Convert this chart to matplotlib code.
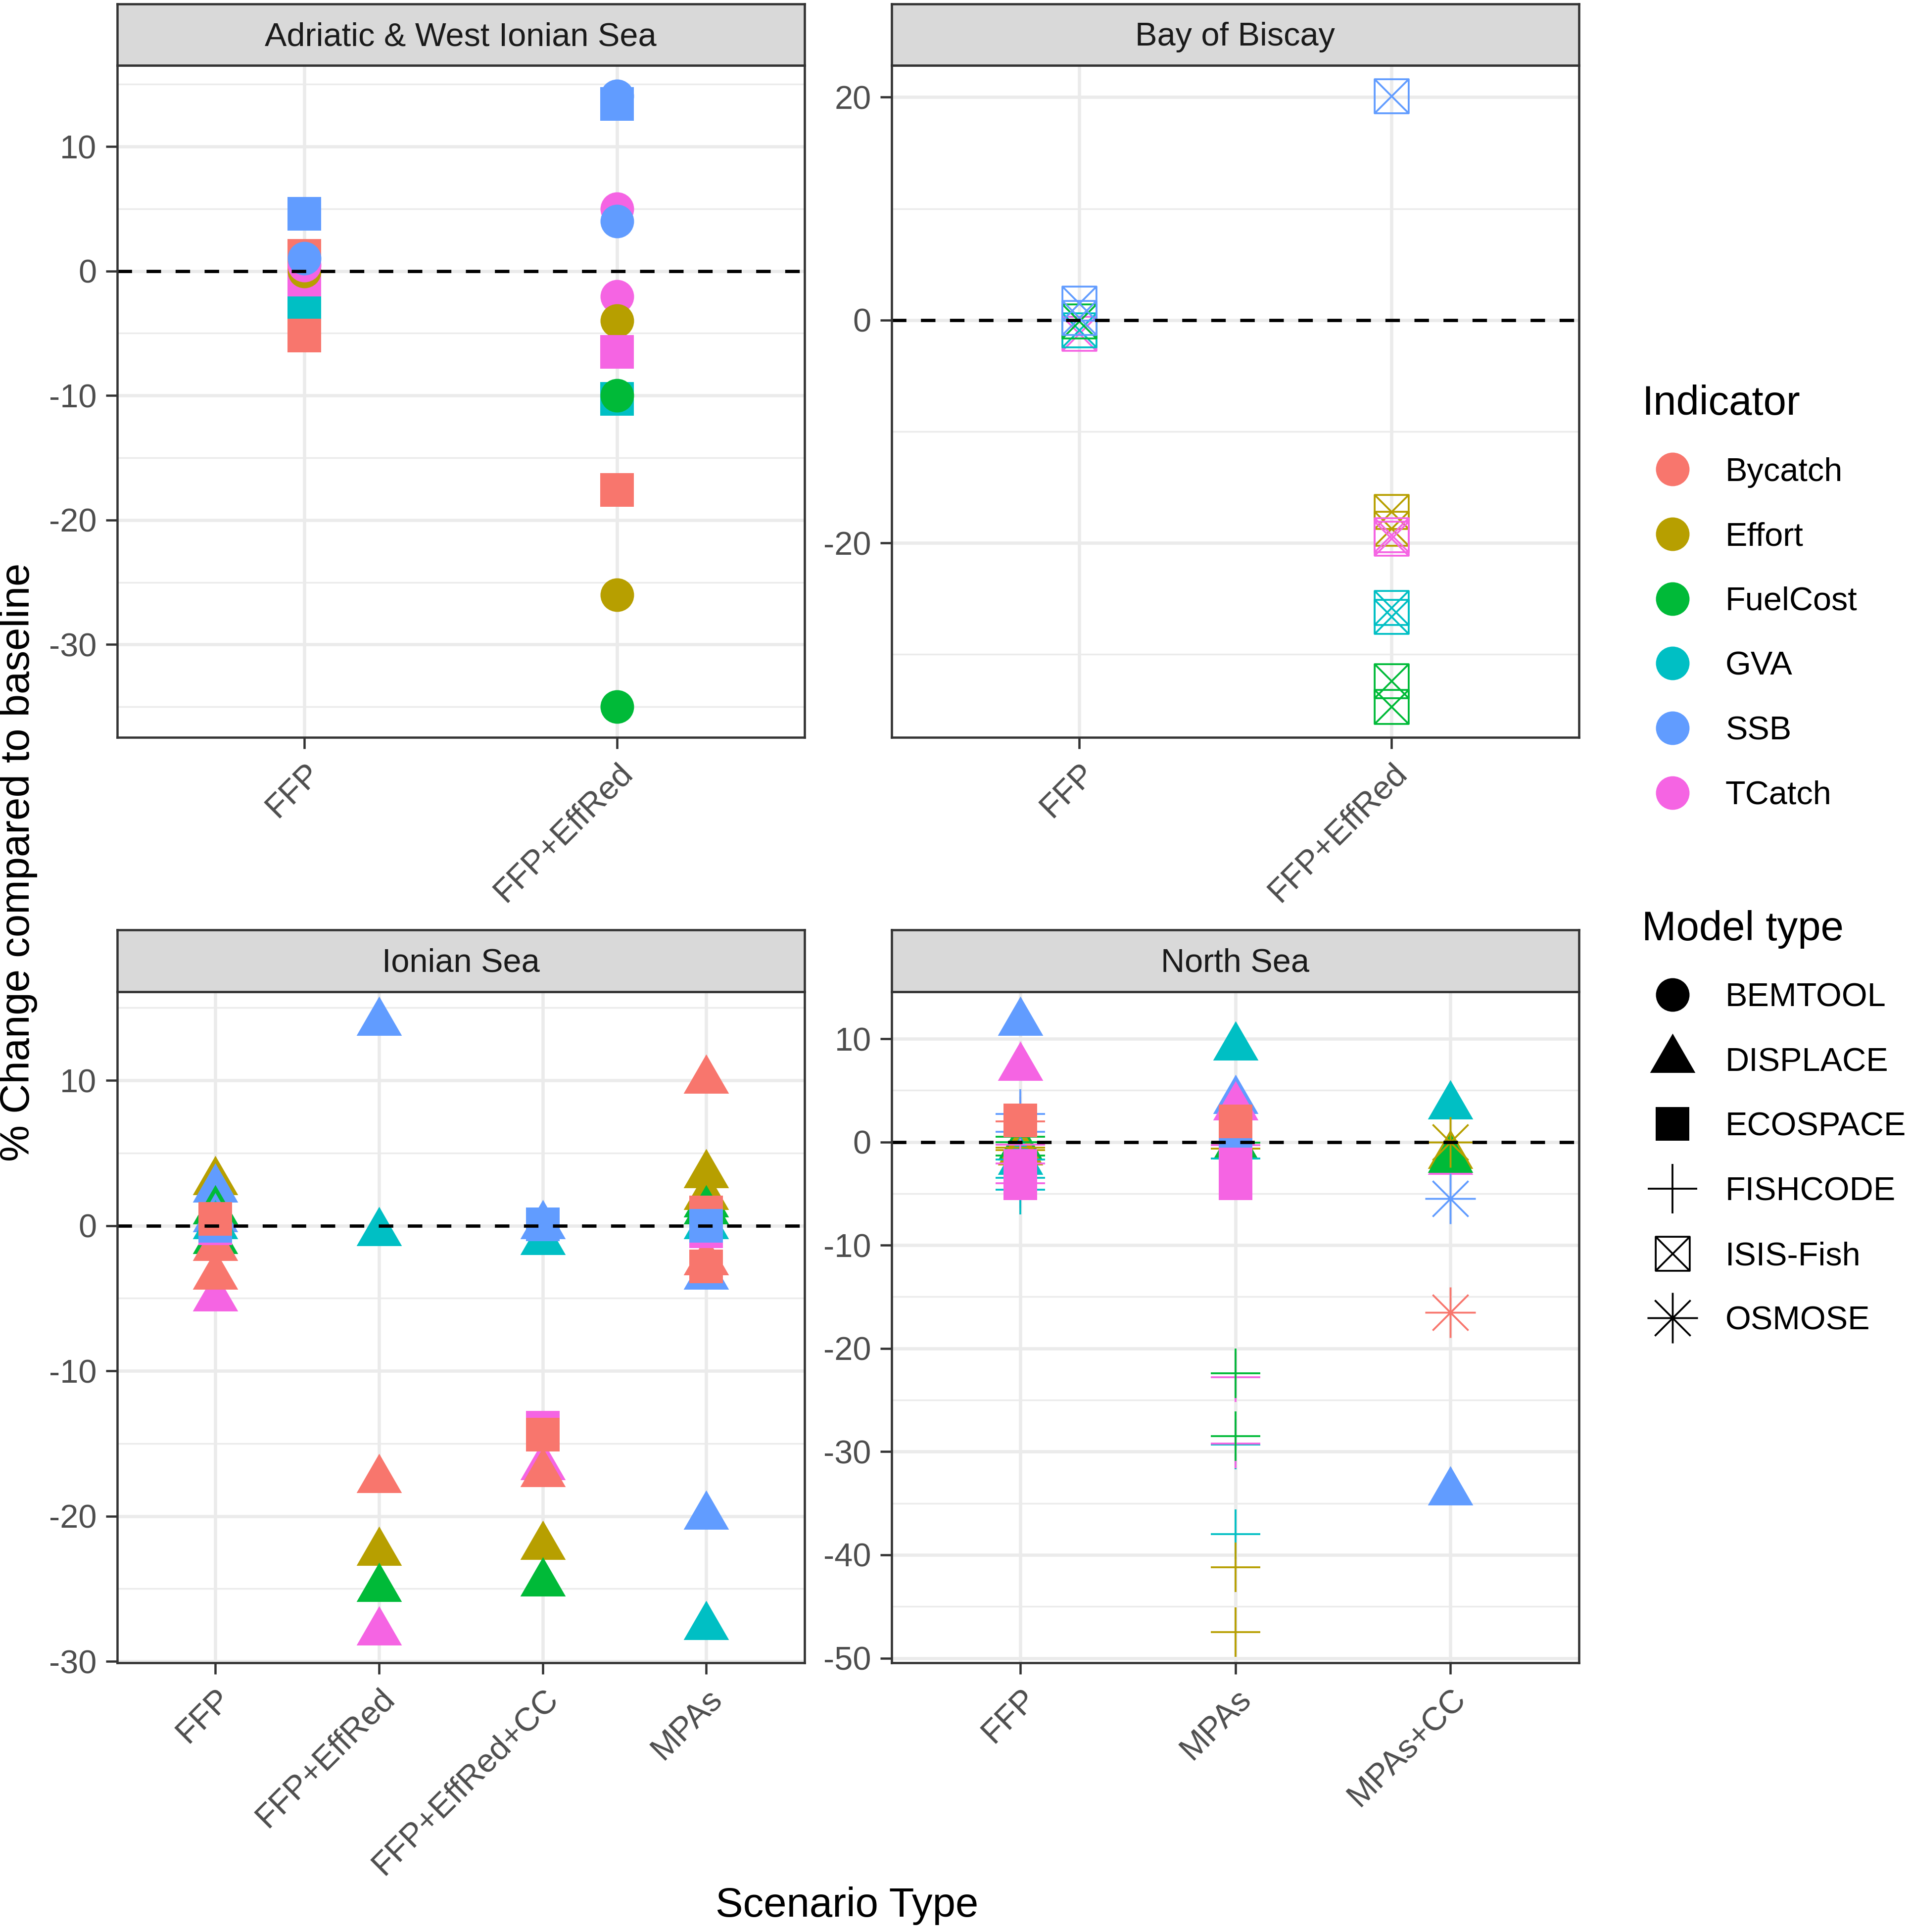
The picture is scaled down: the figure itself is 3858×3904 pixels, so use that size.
import numpy as np
import pandas as pd
import matplotlib
matplotlib.use("Agg")
import matplotlib.pyplot as plt
from matplotlib.path import Path
from matplotlib.lines import Line2D
from matplotlib.ticker import MultipleLocator

plt.rcParams['font.family'] = ['Liberation Sans', 'DejaVu Sans']
plt.rcParams['axes.unicode_minus'] = False

# categories
indicators = ["Bycatch", "Effort", "FuelCost", "GVA", "SSB", "TCatch"]
indicator_colors = ["#F8766D", "#B79F00", "#00BA38", "#00BFC4", "#619CFF", "#F564E3"]
models = ["BEMTOOL", "DISPLACE", "ECOSPACE", "FISHCODE", "ISIS-Fish", "OSMOSE"]
regions = ["Adriatic & West Ionian Sea", "Bay of Biscay", "Ionian Sea", "North Sea"]

# Adriatic & West Ionian Sea (points in drawing order)
adr_scenarios = ["FFP", "FFP+EffRed"]
adr_scenario = ["FFP"] * 8 + ["FFP+EffRed"] * 12
adr_model = ["ECOSPACE", "ECOSPACE", "ECOSPACE", "ECOSPACE", "ECOSPACE", "BEMTOOL", "BEMTOOL", "BEMTOOL",
             "BEMTOOL", "ECOSPACE", "BEMTOOL", "BEMTOOL", "BEMTOOL", "BEMTOOL", "ECOSPACE", "ECOSPACE",
             "BEMTOOL", "ECOSPACE", "BEMTOOL", "BEMTOOL"]
adr_indicator = ["Bycatch", "TCatch", "GVA", "Bycatch", "SSB", "Effort", "TCatch", "SSB",
                 "SSB", "SSB", "TCatch", "SSB", "TCatch", "Effort", "TCatch", "GVA",
                 "FuelCost", "Bycatch", "Effort", "FuelCost"]
adr_value = [1.2, -1.3, -3.4, -5.2, 4.6, 0.0, 0.45, 1.0,
             14.05, 13.4, 5.0, 4.0, -2.05, -4.0, -6.5, -10.25,
             -10.0, -17.6, -26.0, -35.0]

# Bay of Biscay
bob_scenarios = ["FFP", "FFP+EffRed"]
bob_scenario = ["FFP"] * 5 + ["FFP+EffRed"] * 9
bob_model = ["ISIS-Fish"] * 14
bob_indicator = ["TCatch", "GVA", "FuelCost", "SSB", "SSB",
                 "SSB", "Effort", "Effort", "TCatch", "TCatch", "GVA", "GVA", "FuelCost", "FuelCost"]
bob_value = [-1.2, -0.9, -0.1, 0.2, 1.5,
             20.1, -17.2, -18.7, -19.3, -19.6, -25.8, -26.6, -32.4, -34.7]

# Ionian Sea
ion_scenarios = ["FFP", "FFP+EffRed", "FFP+EffRed+CC", "MPAs"]
ion_scenario = ["FFP"] * 12 + ["FFP+EffRed"] * 6 + ["FFP+EffRed+CC"] * 9 + ["MPAs"] * 14
ion_model = (["DISPLACE"] * 9 + ["ECOSPACE"] * 3
             + ["DISPLACE"] * 6
             + ["DISPLACE"] * 6 + ["ECOSPACE"] * 3
             + ["DISPLACE"] * 10 + ["ECOSPACE"] * 4)
ion_indicator = ["Effort", "SSB", "FuelCost", "SSB", "GVA", "FuelCost", "Bycatch", "TCatch", "Bycatch",
                 "TCatch", "SSB", "Bycatch",
                 "SSB", "GVA", "Bycatch", "Effort", "FuelCost", "TCatch",
                 "TCatch", "Bycatch", "Effort", "FuelCost", "GVA", "SSB",
                 "TCatch", "Bycatch", "SSB",
                 "Bycatch", "Effort", "FuelCost", "Effort", "FuelCost", "GVA", "Bycatch", "SSB", "SSB", "GVA",
                 "Bycatch", "TCatch", "SSB", "Bycatch"]
ion_value = [3.0, 2.5, 1.0, 0.47, 0.0, -1.05, -1.5, -5.0, -3.5,
             -0.2, 0.0, 0.45,
             14.0, -0.5, -17.5, -22.5, -25.0, -28.0,
             -16.6, -17.1, -22.1, -24.6, -1.1, 0.0,
             -13.9, -14.4, 0.1,
             10.0, 3.5, 1.5, 2.0, 1.0, 0.0, -2.5, -3.5, -20.0, -27.6,
             0.9, -0.4, 0.0, -2.8]

# North Sea
nsea_scenarios = ["FFP", "MPAs", "MPAs+CC"]
nsea_scenario = ["FFP"] * 22 + ["MPAs"] * 20 + ["MPAs+CC"] * 8
nsea_model = (["DISPLACE"] * 5 + ["FISHCODE"] * 14 + ["ECOSPACE"] * 3
              + ["DISPLACE"] * 4 + ["FISHCODE"] * 12 + ["ECOSPACE"] * 4
              + ["DISPLACE"] * 5 + ["OSMOSE"] * 3)
nsea_indicator = ["SSB", "TCatch", "FuelCost", "Effort", "GVA",
                  "Bycatch", "SSB", "SSB", "FuelCost", "FuelCost", "TCatch", "Effort", "Effort",
                  "FuelCost", "GVA", "TCatch", "GVA", "TCatch", "GVA",
                  "Bycatch", "TCatch", "TCatch",
                  "GVA", "SSB", "TCatch", "FuelCost",
                  "FuelCost", "TCatch", "Effort", "GVA", "TCatch", "FuelCost", "GVA", "TCatch",
                  "FuelCost", "GVA", "Effort", "Effort",
                  "SSB", "Bycatch", "TCatch", "TCatch",
                  "TCatch", "Effort", "FuelCost", "GVA", "SSB",
                  "Effort", "SSB", "Bycatch"]
nsea_value = [11.6, 7.2, -0.5, -1.0, -1.9,
              2.0, 2.7, 1.0, 0.5, 0.0, -0.25, -0.55, -0.8,
              -1.3, -1.7, -2.1, -3.45, -4.0, -4.6,
              2.1, -2.3, -4.0,
              9.2, 4.0, 3.4, -0.4,
              -0.07, -0.3, -0.66, -1.58, -22.8, -22.4, -29.3, -29.2,
              -28.5, -38.0, -41.2, -47.5,
              1.0, 2.0, -2.2, -4.0,
              -1.9, -1.3, -1.7, 3.5, -33.9,
              0.0, -5.5, -16.5]

# marker shapes (ggplot shapes 16, 17, 15, 3, 7, 8)
tri_path = Path([(0, 1), (-0.866, -0.5), (0.866, -0.5), (0, 1)],
                [Path.MOVETO, Path.LINETO, Path.LINETO, Path.CLOSEPOLY])
boxcross_path = Path([(-1, -1), (1, -1), (1, 1), (-1, 1), (-1, -1),
                      (-1, -1), (1, 1), (-1, 1), (1, -1)],
                     [Path.MOVETO, Path.LINETO, Path.LINETO, Path.LINETO, Path.CLOSEPOLY,
                      Path.MOVETO, Path.LINETO, Path.MOVETO, Path.LINETO])
d = 0.7071
aster_path = Path([(-1, 0), (1, 0), (0, -1), (0, 1), (-d, -d), (d, d), (-d, d), (d, -d)],
                  [Path.MOVETO, Path.LINETO] * 4)
model_style = {
    "BEMTOOL": dict(marker="o", ms=16.3, filled=True),
    "DISPLACE": dict(marker=tri_path, ms=25.4, filled=True),
    "ECOSPACE": dict(marker="s", ms=16.5, filled=True),
    "FISHCODE": dict(marker="+", ms=24.2, filled=False),
    "ISIS-Fish": dict(marker=boxcross_path, ms=16.5, filled=False),
    "OSMOSE": dict(marker=aster_path, ms=24.5, filled=False),
}
color_of = dict(zip(indicators, indicator_colors))

df = pd.concat([
    pd.DataFrame(dict(region=regions[0], scenario=adr_scenario, model=adr_model,
                      indicator=adr_indicator, value=adr_value)),
    pd.DataFrame(dict(region=regions[1], scenario=bob_scenario, model=bob_model,
                      indicator=bob_indicator, value=bob_value)),
    pd.DataFrame(dict(region=regions[2], scenario=ion_scenario, model=ion_model,
                      indicator=ion_indicator, value=ion_value)),
    pd.DataFrame(dict(region=regions[3], scenario=nsea_scenario, model=nsea_model,
                      indicator=nsea_indicator, value=nsea_value)),
], ignore_index=True)
region_cats = {regions[0]: adr_scenarios, regions[1]: bob_scenarios,
               regions[2]: ion_scenarios, regions[3]: nsea_scenarios}
region_step = {regions[0]: 10, regions[1]: 20, regions[2]: 10, regions[3]: 10}

W, H = 3858, 3904
fig = plt.figure(figsize=(W / 300, H / 300), dpi=300)

def px_rect(x0, y0, x1, y1):
    return [x0 / W, 1 - y1 / H, (x1 - x0) / W, (y1 - y0) / H]

panel_px = [(236.5, 132.4, 1626, 1490), (1802, 132.4, 3191, 1490),
            (236.5, 2004, 1626, 3360), (1802, 2004, 3191, 3360)]
strip_h = 124.5
border = "#333333"

for reg, (x0, y0, x1, y1) in zip(regions, panel_px):
    ax = fig.add_axes(px_rect(x0, y0, x1, y1))
    sub = df[df.region == reg]
    cats = region_cats[reg]
    for s, m, ind, v in zip(sub.scenario, sub.model, sub.indicator, sub.value):
        st = model_style[m]
        x = cats.index(s)
        col = color_of[ind]
        if st["filled"]:
            ax.plot(x, v, ls="none", marker=st["marker"], ms=st["ms"], color=col, mew=0, zorder=3)
        else:
            ax.plot(x, v, ls="none", marker=st["marker"], ms=st["ms"], mfc="none", mec=col,
                    mew=0.9, zorder=3)
    ax.axhline(0, color="black", lw=1.6, dashes=(4.4, 4.4), zorder=4)

    lo, hi = sub.value.min(), sub.value.max()
    pad = 0.05 * (hi - lo)
    ax.set_ylim(lo - pad, hi + pad)
    ax.set_xlim(-0.6, len(cats) - 1 + 0.6)
    step = region_step[reg]
    ax.yaxis.set_major_locator(MultipleLocator(step))
    ax.yaxis.set_minor_locator(MultipleLocator(step / 2))
    ax.yaxis.set_major_formatter(plt.FuncFormatter(lambda v, p: f"{v:.0f}"))
    ax.set_xticks(range(len(cats)))
    ax.set_xticklabels(cats, rotation=45, ha="right", va="top", rotation_mode="anchor")
    ax.grid(which="major", color="#EBEBEB", lw=1.6)
    ax.grid(which="minor", axis="y", color="#EBEBEB", lw=0.8)
    ax.set_axisbelow(True)
    ax.tick_params(which="major", length=5.5, width=1.1, color=border, labelcolor="#4D4D4D",
                   labelsize=16, pad=4.4)
    ax.tick_params(which="minor", length=0)
    for sp in ax.spines.values():
        sp.set_color(border)
        sp.set_linewidth(1.1)
        sp.set_zorder(5)

    # facet strip
    sax = fig.add_axes(px_rect(x0, y0 - strip_h, x1, y0))
    sax.set_facecolor("#D9D9D9")
    sax.set_xticks([])
    sax.set_yticks([])
    for sp in sax.spines.values():
        sp.set_color(border)
        sp.set_linewidth(1.1)
    sax.text(0.5, 0.46, reg, ha="center", va="center", fontsize=16, color="#1A1A1A",
             transform=sax.transAxes)

fig.text(37 / W, 1 - 1742 / H, "% Change compared to baseline", rotation=90,
         ha="center", va="center", fontsize=20)
fig.text(1712 / W, 1 - 3851 / H, "Scenario Type", ha="center", va="center", fontsize=20)

ind_handles = [Line2D([], [], ls="none", marker="o", ms=16.3, color=c, mew=0) for c in indicator_colors]
leg1 = fig.legend(ind_handles, indicators, loc="upper left", bbox_to_anchor=(3318 / W, 0.801),
                  frameon=False, borderpad=0, borderaxespad=0, title="Indicator", title_fontsize=20,
                  fontsize=16, alignment="left", handlelength=1.86, handletextpad=0.675,
                  labelspacing=1.03)

mod_handles = []
for m in models:
    st = model_style[m]
    if st["filled"]:
        mod_handles.append(Line2D([], [], ls="none", marker=st["marker"], ms=st["ms"], color="black", mew=0))
    else:
        mod_handles.append(Line2D([], [], ls="none", marker=st["marker"], ms=st["ms"], mfc="none",
                                  mec="black", mew=0.9))
leg2 = fig.legend(mod_handles, models, loc="upper left", bbox_to_anchor=(3318 / W, 0.529),
                  frameon=False, borderpad=0, borderaxespad=0, title="Model type", title_fontsize=20,
                  fontsize=16, alignment="left", handlelength=1.86, handletextpad=0.675,
                  labelspacing=1.03)

fig.savefig("out.png", dpi=300)
